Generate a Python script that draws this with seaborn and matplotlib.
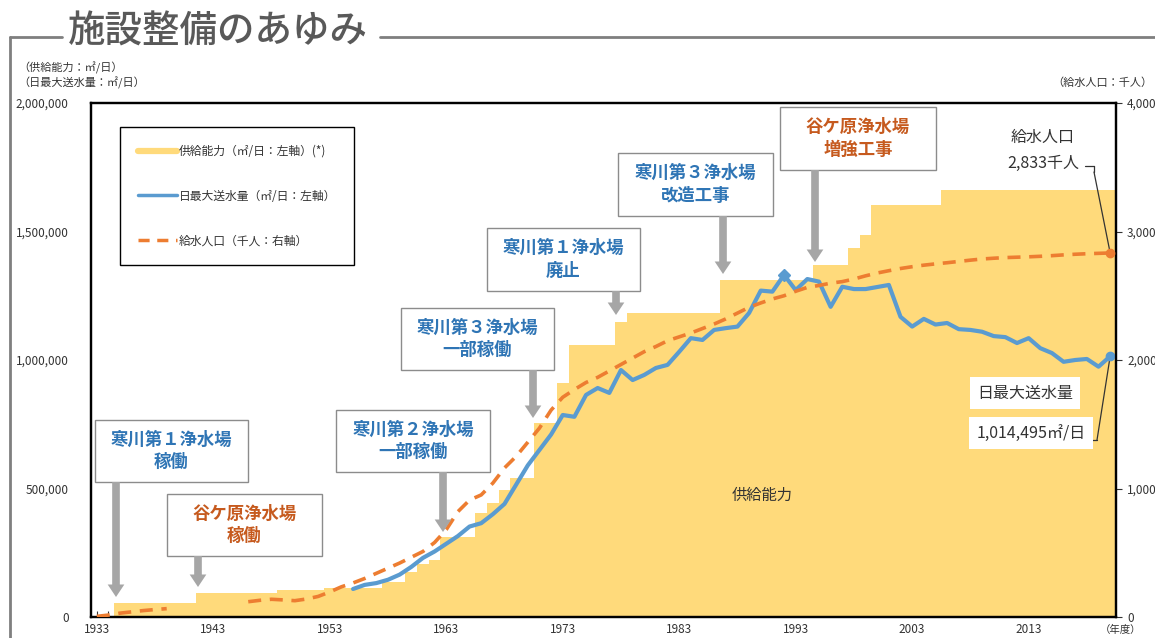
import numpy as np
import pandas as pd
import matplotlib
matplotlib.use('Agg')
import matplotlib.pyplot as plt
import seaborn as sns
from matplotlib.lines import Line2D
from matplotlib.patches import Rectangle, FancyArrowPatch
from matplotlib.ticker import FuncFormatter, MultipleLocator

# ---- data ----
years = list(range(1933, 2021))

# supply capacity (m3/day), one value per fiscal year 1933-2020
supply = [
    0, 0, 55000, 55000, 55000, 55000, 55000, 55000, 55000, 95000,          # 1933-1942
    95000, 95000, 95000, 95000, 95000, 95000, 105000, 105000, 105000, 105000,  # 1943-1952
    113000, 113000, 113000, 113000, 113000, 136000, 136000, 175000, 205000, 222000,  # 1953-1962
    311000, 311000, 311000, 405000, 443000, 494000, 541000, 541000, 755000, 755000,  # 1963-1972
    910000, 1058000, 1058000, 1058000, 1058000, 1148000, 1183000, 1183000, 1183000, 1183000,  # 1973-1982
    1183000, 1183000, 1183000, 1183000, 1313000, 1313000, 1313000, 1313000, 1313000, 1313000,  # 1983-1992
    1313000, 1313000, 1370000, 1370000, 1370000, 1436000, 1486000, 1603000, 1603000, 1603000,  # 1993-2002
    1603000, 1603000, 1603000, 1661000, 1661000, 1661000, 1661000, 1661000, 1661000, 1661000,  # 2003-2012
    1661000, 1661000, 1661000, 1661000, 1661000, 1661000, 1661000, 1661000,  # 2013-2020
]

# daily maximum delivery (m3/day), 1955-2020
flow_years = list(range(1955, 2021))
max_flow = [
    109000, 125000, 132000, 145000, 165000, 195000, 230000, 255000, 285000, 315000,  # 1955-1964
    352000, 365000, 400000, 440000, 515000, 590000, 650000, 710000, 786000, 779000,  # 1965-1974
    864000, 891000, 872000, 961000, 922000, 942000, 969000, 981000, 1032000, 1085000,  # 1975-1984
    1078000, 1117000, 1124000, 1130000, 1183000, 1270000, 1266000, 1331000, 1272000, 1315000,  # 1985-1994
    1305000, 1207000, 1285000, 1276000, 1276000, 1284000, 1292000, 1168000, 1130000, 1160000,  # 1995-2004
    1138000, 1144000, 1120000, 1117000, 1110000, 1093000, 1089000, 1066000, 1085000, 1046000,  # 2005-2014
    1027000, 993000, 1000000, 1004000, 974000, 1014495,  # 2015-2020
]

# population served (thousand people), 1933-2020; no data 1940-1945
population = [
    5, 15, 30, 40, 50, 58, 65, None, None, None,              # 1933-1942
    None, None, None, 119, 130, 138, 133, 127, 140, 160,      # 1943-1952
    195, 235, 265, 300, 340, 380, 420, 465, 510, 580,         # 1953-1962
    680, 820, 910, 950, 1042, 1160, 1250, 1360, 1470, 1610,   # 1963-1972
    1710, 1770, 1825, 1865, 1915, 1965, 2015, 2065, 2105, 2150,  # 1973-1982
    2180, 2210, 2245, 2280, 2320, 2365, 2410, 2444, 2475, 2500,  # 1983-1992
    2535, 2565, 2580, 2598, 2610, 2630, 2655, 2677, 2695, 2712,  # 1993-2002
    2726, 2738, 2748, 2757, 2767, 2777, 2786, 2792, 2797, 2800,  # 2003-2012
    2803, 2807, 2812, 2818, 2823, 2827, 2830, 2833,           # 2013-2020
]

peak_year = 1992

# annotation boxes: pixel box (left, top, right, bottom), text, colour, arrow (x, y0, y1)
BLUE_TXT = '#2F75B5'
ORANGE_TXT = '#C65A1E'
events = [
    ((95, 420, 248, 482), '寒川第１浄水場\n稼働', BLUE_TXT, (116, 482, 597)),
    ((167, 494, 322, 556), '谷ケ原浄水場\n稼働', ORANGE_TXT, (198, 556, 587)),
    ((336, 410, 490, 472), '寒川第２浄水場\n一部稼働', BLUE_TXT, (443, 472, 532)),
    ((401, 308, 554, 370), '寒川第３浄水場\n一部稼働', BLUE_TXT, (533, 370, 418)),
    ((487, 228, 640, 291), '寒川第１浄水場\n廃止', BLUE_TXT, (616, 291, 315)),
    ((618, 153, 773, 216), '寒川第３浄水場\n改造工事', BLUE_TXT, (723, 216, 274)),
    ((780, 107, 936, 170), '谷ケ原浄水場\n増強工事', ORANGE_TXT, (815, 170, 262)),
]

# ---- style ----
sns.set_theme(style='white')
plt.rcParams['font.family'] = ['Noto Sans CJK JP', 'DejaVu Sans']

W, H = 1155, 638
fig = plt.figure(figsize=(W / 100, H / 100), dpi=100)


def fx(px):
    return px / W


def fy(py):
    return 1 - py / H


ax = fig.add_axes([fx(91), fy(617), fx(1116) - fx(91), fy(103) - fy(617)])
ax2 = ax.twinx()

YELLOW = '#FFDA7B'
BLUE = '#5A9BD0'
ORANGE = '#ED7D31'

# supply capacity as a stepped filled area
yrs = np.array(years)
edges = np.append(yrs - 0.5, yrs[-1] + 0.5)
ax.stairs(supply, edges, fill=True, color=YELLOW, linewidth=0, zorder=1)

# daily maximum delivery
flow_df = pd.DataFrame({'year': flow_years, 'flow': max_flow})
sns.lineplot(data=flow_df, x='year', y='flow', ax=ax, color=BLUE, linewidth=3, zorder=3)
pk = flow_df[flow_df['year'] == peak_year]
ax.plot(pk['year'], pk['flow'], marker='D', ms=6, color=BLUE, zorder=4, linestyle='none')
ax.plot(flow_df['year'].iloc[-1:], flow_df['flow'].iloc[-1:], marker='o', ms=6,
        color=BLUE, zorder=4, linestyle='none')

# population served (gap during the war years)
pop_df = pd.DataFrame({'year': years, 'pop': population}).dropna()
pop_df['seg'] = (pop_df['year'] > 1945).astype(int)
sns.lineplot(data=pop_df, x='year', y='pop', units='seg', estimator=None, ax=ax2,
             color=ORANGE, linewidth=2.6, dashes=False, zorder=3)
for ln in ax2.get_lines():
    ln.set_dashes((3.6, 2.4))
ax2.plot(pop_df['year'].iloc[-1:], pop_df['pop'].iloc[-1:], marker='o', ms=6,
         color=ORANGE, linestyle='none', zorder=4)

# ---- axes ----
ax.set_xlim(1932.5, 2020.5)
ax.set_ylim(0, 2000000)
ax2.set_ylim(0, 4000)
ax.set_xlabel('')
ax.set_ylabel('')
ax2.set_ylabel('')

ax.set_xticks(list(range(1933, 2021, 10)))
ax.xaxis.set_minor_locator(MultipleLocator(1))
ax.set_yticks([0, 500000, 1000000, 1500000, 2000000])
ax2.set_yticks([0, 1000, 2000, 3000, 4000])
ax.yaxis.set_major_formatter(FuncFormatter(lambda v, p: f'{int(v):,}'))
ax2.yaxis.set_major_formatter(FuncFormatter(lambda v, p: f'{int(v):,}'))

ax.tick_params(axis='x', which='both', direction='in', length=4, width=0.8,
               bottom=True, labelsize=8.5, pad=4, colors='#333333')
ax.tick_params(axis='y', left=False, labelsize=8.5, pad=10, labelcolor='#333333')
ax2.tick_params(axis='y', right=True, direction='out', length=4, width=0.8,
                labelsize=8.5, pad=4, labelcolor='#333333', color='#333333')
ax2.tick_params(axis='x', bottom=False)

for a in (ax, ax2):
    for s in a.spines.values():
        s.set_color('black')
        s.set_linewidth(1.6)
ax.grid(False)
ax2.grid(False)

# ---- legend ----
handles = [
    Line2D([], [], color=YELLOW, lw=4.5),
    Line2D([], [], color=BLUE, lw=2.5),
    Line2D([], [], color=ORANGE, lw=2.5, dashes=(3.2, 2.2)),
]
labels = ['供給能力（㎡/日：左軸）(*)', '日最大送水量（㎡/日：左軸）', '給水人口（千人：右軸）']
leg = fig.legend(handles, labels, loc='upper left', bbox_to_anchor=(fx(120), fy(127)),
                 bbox_transform=fig.transFigure, fontsize=8.5, frameon=True,
                 fancybox=False, framealpha=1, edgecolor='black', borderpad=1.5,
                 labelspacing=2.7, handlelength=3.3, handletextpad=0.2, borderaxespad=0)
leg.get_frame().set_linewidth(1.0)
for t in leg.get_texts():
    t.set_color('#333333')

# ---- event boxes and arrows ----
for (l, t, r, b), txt, col, (axx, ay0, ay1) in events:
    fig.add_artist(Rectangle((fx(l), fy(b)), fx(r) - fx(l), fy(t) - fy(b),
                             transform=fig.transFigure, facecolor='white',
                             edgecolor='#8C8C8C', linewidth=1.0, zorder=5))
    fig.text(fx((l + r) / 2), fy((t + b) / 2), txt, ha='center', va='center',
             fontsize=12.5, fontweight='bold', color=col, linespacing=1.35, zorder=6)
    fig.add_artist(FancyArrowPatch((fx(axx), fy(ay0)), (fx(axx), fy(ay1)),
                                   transform=fig.transFigure,
                                   arrowstyle='simple,head_width=1.2,head_length=0.9,tail_width=0.55',
                                   mutation_scale=10, color='#A6A6A6', linewidth=0,
                                   shrinkA=0, shrinkB=0, zorder=5))

# ---- end-of-series labels ----
fig.text(fx(1043), fy(137), '給水人口', ha='center', va='center', fontsize=11.5, color='#333333')
fig.text(fx(1043), fy(163), '2,833千人', ha='center', va='center', fontsize=11.5, color='#333333')
ax2.annotate('', xy=(years[-1], population[-1]), xycoords='data',
             xytext=(fx(1094), fy(172)), textcoords='figure fraction',
             arrowprops=dict(arrowstyle='-', color='#333333', lw=0.9,
                             shrinkA=0, shrinkB=3))
fig.add_artist(Line2D([fx(1085), fx(1094)], [fy(166), fy(166)],
                      transform=fig.transFigure, color='#333333', lw=0.9))
fig.add_artist(Line2D([fx(1094), fx(1094)], [fy(166), fy(172)],
                      transform=fig.transFigure, color='#333333', lw=0.9))

fig.text(fx(1025), fy(393), '日最大送水量', ha='center', va='center', fontsize=11.5,
         color='#333333', zorder=6,
         bbox=dict(boxstyle='square,pad=0.45', facecolor='white', edgecolor='none'))
fig.text(fx(1031), fy(433), '1,014,495㎡/日', ha='center', va='center', fontsize=11.5,
         color='#333333', zorder=6,
         bbox=dict(boxstyle='square,pad=0.45', facecolor='white', edgecolor='none'))
ax.annotate('', xy=(flow_years[-1], max_flow[-1]), xycoords='data',
            xytext=(fx(1097), fy(440)), textcoords='figure fraction',
            arrowprops=dict(arrowstyle='-', color='#333333', lw=0.9,
                            shrinkA=0, shrinkB=3))
fig.add_artist(Line2D([fx(1091), fx(1097)], [fy(440), fy(440)],
                      transform=fig.transFigure, color='#333333', lw=0.9))

fig.text(fx(762), fy(495), '供給能力', ha='center', va='center', fontsize=11, color='#333333')

# ---- axis unit labels ----
fig.text(fx(18), fy(68), '（供給能力：㎡/日）', ha='left', va='center', fontsize=8, color='#333333')
fig.text(fx(18), fy(83), '（日最大送水量：㎡/日）', ha='left', va='center', fontsize=8, color='#333333')
fig.text(fx(1152), fy(83), '（給水人口：千人）', ha='right', va='center', fontsize=8, color='#333333')
fig.text(fx(1100), fy(630), '（年度）', ha='left', va='center', fontsize=7.5, color='#333333')

# ---- title and frame ----
fig.text(fx(68), fy(32), '施設整備のあゆみ', ha='left', va='center', fontsize=27,
         fontweight='medium', color='#595959')
FRAME = '#7F7F7F'
fig.add_artist(Line2D([fx(10), fx(62)], [fy(37), fy(37)], transform=fig.transFigure,
                      color=FRAME, lw=2))
fig.add_artist(Line2D([fx(10), fx(10)], [fy(37), fy(640)], transform=fig.transFigure,
                      color=FRAME, lw=2))
fig.add_artist(Line2D([fx(380), fx(1160)], [fy(37), fy(37)], transform=fig.transFigure,
                      color=FRAME, lw=2))

fig.savefig('out.png', dpi=100)
